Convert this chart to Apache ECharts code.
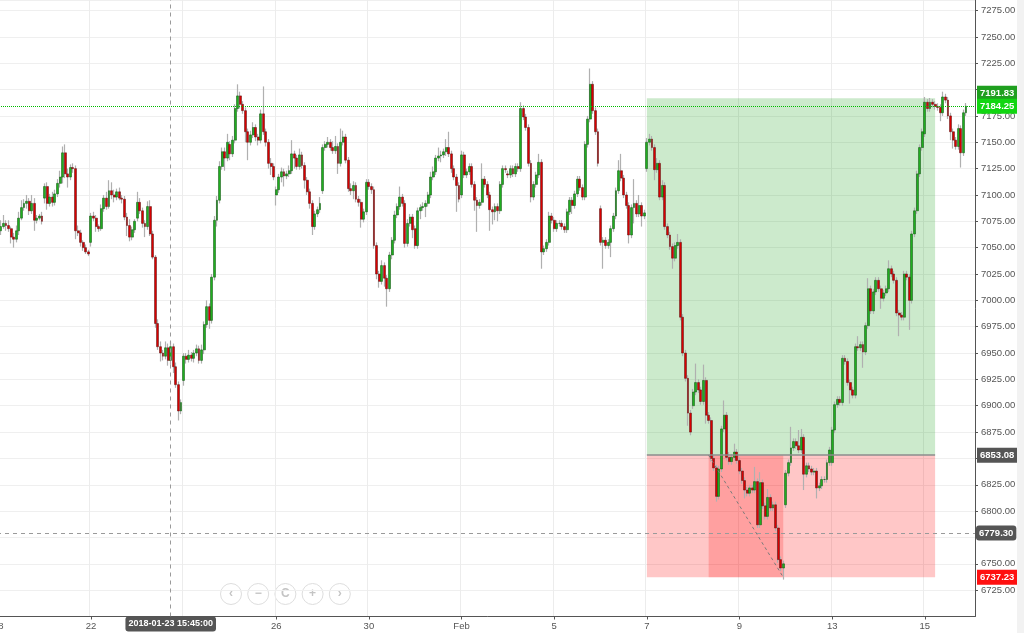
<!DOCTYPE html>
<html><head><meta charset="utf-8">
<script src="https://cdn.jsdelivr.net/npm/echarts@6/dist/echarts.min.js"></script>
<style>html,body{margin:0;padding:0;background:#fff}#c{width:1024px;height:633px}</style>
</head><body><div id="c"></div><script>
// ---- data (30-min style bars, 18 per trading day) ----
const days = ['2018-01-18','2018-01-19','2018-01-22','2018-01-23','2018-01-24','2018-01-25','2018-01-26',
  '2018-01-29','2018-01-30','2018-01-31','2018-02-01','2018-02-02','2018-02-05','2018-02-06','2018-02-07',
  '2018-02-08','2018-02-09','2018-02-12','2018-02-13','2018-02-14','2018-02-15'];
const dayLabels = ['18','19','22','23','24','25','26','29','30','31','Feb','2','5','6','7','8','9','12','13','14','15'];
const dayOpen = [7062,7097,7055,7078,6924,7148,7100,7104,7112,7068,7100,7120,7076,7087,7125,6900,6848,6806,6846,7019,7158];
const closes = [
 [7066,7070,7073,7071,7068,7060,7058,7066,7078,7088,7092,7094,7085,7092,7076,7078,7080,7075],
 [7108,7092,7098,7093,7101,7111,7117,7140,7120,7117,7126,7125,7066,7064,7055,7050,7046,7044],
 [7080,7078,7070,7068,7087,7097,7089,7104,7100,7098,7103,7097,7096,7079,7071,7060,7067,7075],
 [7093,7085,7073,7070,7089,7063,7041,6978,6956,6950,6947,6955,6943,6956,6937,6920,6895,6903],
 [6947,6944,6948,6945,6950,6954,6943,6953,6977,6994,6981,7022,7076,7095,7127,7141,7135,7150],
 [7139,7152,7182,7194,7186,7180,7160,7150,7157,7164,7155,7152,7177,7160,7150,7130,7127,7117],
 [7105,7117,7122,7118,7120,7123,7139,7135,7127,7138,7128,7114,7103,7092,7070,7082,7086,7092],
 [7145,7148,7150,7145,7142,7146,7130,7150,7155,7133,7106,7104,7109,7096,7093,7077,7084,7112],
 [7108,7105,7052,7025,7018,7033,7021,7011,7043,7057,7081,7089,7098,7092,7054,7073,7079,7067],
 [7052,7085,7088,7089,7092,7100,7117,7122,7135,7137,7138,7141,7145,7139,7125,7117,7109,7096],
 [7138,7119,7122,7127,7110,7095,7090,7093,7115,7110,7100,7086,7084,7089,7085,7110,7125,7124],
 [7119,7125,7120,7127,7125,7182,7174,7164,7130,7098,7110,7119,7131,7046,7049,7055,7080,7076],
 [7068,7073,7073,7070,7067,7084,7095,7090,7101,7115,7107,7098,7148,7172,7205,7180,7160,7130],
 [7055,7057,7052,7055,7068,7080,7104,7123,7116,7100,7090,7062,7088,7092,7082,7090,7080,7083],
 [7150,7153,7145,7124,7130,7098,7109,7070,7062,7051,7040,7052,7055,6984,6950,6926,6893,6875],
 [6913,6922,6915,6904,6924,6891,6886,6850,6841,6814,6840,6878,6891,6851,6847,6851,6856,6848],
 [6838,6829,6820,6817,6822,6820,6828,6787,6827,6805,6795,6813,6803,6806,6784,6754,6746,6750],
 [6836,6846,6860,6866,6862,6858,6870,6835,6843,6840,6837,6838,6822,6824,6830,6830,6846,6858],
 [6877,6901,6906,6903,6945,6942,6922,6915,6910,6956,6955,6958,6951,6976,7011,6990,7008,7019],
 [7011,7002,7007,7011,7030,7025,7019,6988,6986,6984,7025,7022,7000,7063,7085,7120,7145,7160],
 [7188,7182,7188,7186,7184,7183,7178,7193,7190,7175,7160,7152,7146,7163,7140,7178,7184.25]
];
const wickHi = [
 [4,6,8,3,5,2,4,5,6,7,4,6,3,8,5,3,2,4],
 [3,4,3,5,4,4,6,6,8,5,3,4,3,5,3,2,3,2],
 [3,4,3,2,4,3,6,10,8,5,3,4,3,3,4,6,3,2],
 [10,4,3,3,5,6,3,2,4,5,3,6,4,5,3,4,3,3],
 [3,3,5,3,3,4,3,5,3,6,3,3,4,4,5,4,4,8],
 [3,4,4,11,4,3,3,3,4,5,3,3,4,26,3,3,5,3],
 [3,3,4,3,3,5,13,3,3,6,3,3,3,3,3,3,3,6],
 [3,3,5,3,6,10,3,13,6,3,3,5,4,3,3,3,3,3],
 [3,3,3,3,3,5,3,3,3,3,4,3,10,3,3,4,3,3],
 [3,3,3,4,3,3,5,5,3,8,4,3,8,15,3,3,3,3],
 [4,3,3,3,3,3,3,3,15,3,3,3,3,3,3,3,3,3],
 [3,3,3,3,3,6,3,3,3,3,3,3,8,3,3,3,4,3],
 [3,3,3,3,3,3,3,3,3,3,3,3,3,3,15,3,3,3],
 [3,3,3,3,3,3,3,10,16,3,3,3,3,23,3,10,3,3],
 [4,5,3,3,5,3,5,3,3,3,3,3,8,3,3,3,3,3],
 [3,18,3,3,15,3,3,3,3,3,3,3,14,3,5,3,8,3],
 [3,3,3,3,3,3,14,3,10,3,3,8,3,3,3,3,3,3],
 [3,3,20,3,3,15,8,3,3,3,3,3,3,3,3,3,3,3],
 [3,3,3,3,3,3,3,3,3,3,10,3,3,3,10,3,3,3],
 [3,3,3,3,8,3,3,3,3,3,3,3,3,3,3,3,3,3],
 [5,3,4,3,3,3,3,5,3,3,3,3,3,4,3,3,3]
];
const wickLo = [
 [3,4,2,5,3,6,8,3,4,2,3,5,4,3,10,3,2,3],
 [5,6,3,4,3,3,4,6,4,10,3,4,8,3,4,3,2,2],
 [4,3,5,3,2,3,3,2,4,5,3,2,4,3,10,4,3,3],
 [3,3,4,10,3,2,2,4,3,8,4,3,5,4,6,3,9,3],
 [5,4,3,3,4,3,3,3,4,3,8,3,3,6,3,3,12,3],
 [6,3,3,3,4,3,10,17,3,3,4,5,3,3,4,5,8,3],
 [10,3,5,10,3,3,3,10,3,3,3,8,3,5,8,3,3,3],
 [3,3,3,3,3,3,10,3,3,3,3,4,8,3,4,8,3,3],
 [3,4,3,5,6,3,8,17,3,4,3,3,3,3,4,3,3,8],
 [3,3,8,3,10,3,3,3,3,3,6,3,4,3,4,3,25,3],
 [3,3,3,3,3,10,25,3,3,3,3,20,12,8,10,3,3,3],
 [3,3,3,3,3,3,3,3,3,5,3,3,3,16,3,3,3,3],
 [3,3,3,3,3,3,3,8,3,3,3,3,3,3,3,3,3,3],
 [3,25,3,3,14,3,3,3,3,3,3,8,3,15,3,3,10,3],
 [3,3,3,10,3,3,3,3,3,3,10,3,3,3,3,3,12,3],
 [3,3,3,3,3,8,3,3,3,5,3,3,3,3,3,3,3,3],
 [3,3,8,3,3,3,3,3,3,3,3,3,3,3,3,3,3,11],
 [3,3,3,3,3,3,3,15,3,3,3,3,10,3,3,3,3,3],
 [3,3,3,3,3,3,3,13,3,3,3,3,15,3,3,3,3,3],
 [3,10,3,3,3,3,3,3,20,3,3,3,28,3,3,3,3,3],
 [3,3,3,3,3,3,8,3,3,3,8,8,3,3,14,3,3]
];
const priceMarks = {target: 7191.83, last: 7184.25, entry: 6853.08, cross: 6779.30, stop: 6737.23};
const crossLabel = '2018-01-23 15:45:00';
const crossBar = 67;
const posBox = {start: 252, end: 364, hitStart: 276, hitEnd: 305};
const totalSlots = 380;

// ---- build ----
const cats = [], wickData = [], bodyData = [], labelMap = new Map();
days.forEach((d, i) => {
  if (i % 2 === 0) labelMap.set(cats.length, dayLabels[i]);
  let o = dayOpen[i];
  closes[i].forEach((c, k) => {
    const h = Math.max(o, c) + wickHi[i][k], l = Math.min(o, c) - wickLo[i][k];
    cats.push(d + ' bar' + k);
    wickData.push([o, c, l, h]);
    bodyData.push([o, c, Math.min(o, c), Math.max(o, c)]);
    o = c;
  });
});
while (cats.length < totalSlots) cats.push('slot' + cats.length);
const showIdx = (i) => labelMap.has(i);

const FONT = 'Liberation Sans, Arial, sans-serif';
const priceLabel = (bg, dy) => ({show: true, position: 'end', distance: 2, offset: [0, dy || 0],
  formatter: p => Number(p.value).toFixed(2),
  backgroundColor: bg, color: '#fff', fontSize: 9.5, fontWeight: 'bold', fontFamily: FONT, padding: [3, 3, 2, 3], opacity: 1});
const noLine = {color: 'rgba(0,0,0,0)', width: 1};

const chart = echarts.init(document.getElementById('c'), null, {renderer: 'canvas'});
chart.setOption({
  animation: false,
  textStyle: {fontFamily: FONT},
  grid: {left: -3, right: 49, top: 0, bottom: 16.5, outerBoundsMode: 'none', containLabel: false},
  axisPointer: {triggerOn: 'none'},
  xAxis: {
    type: 'category', data: cats, boundaryGap: true,
    axisLine: {lineStyle: {color: '#555', width: 1}},
    axisTick: {show: true, alignWithLabel: true, interval: showIdx, length: 3, lineStyle: {color: '#555'}},
    axisLabel: {interval: showIdx, formatter: (v, i) => labelMap.get(i) || '', color: '#555', fontSize: 9.5, margin: 5, fontFamily: FONT},
    splitLine: {show: true, interval: showIdx, lineStyle: {color: '#ececec'}},
    axisPointer: {show: true, value: crossBar, status: 'show', type: 'line', snap: false, triggerTooltip: false,
      lineStyle: {color: '#9a9a9a', type: [4, 4], width: 1},
      label: {show: true, formatter: () => crossLabel, backgroundColor: '#555', color: '#fff', fontSize: 9, fontWeight: 'bold',
        fontFamily: FONT, padding: [3, 3, 3, 3], margin: 0},
      handle: {show: false}}
  },
  yAxis: {
    type: 'value', position: 'right', min: 6700, max: 7285, interval: 25,
    axisLine: {show: true, lineStyle: {color: '#555'}},
    axisTick: {show: true, length: 3, lineStyle: {color: '#555'}},
    axisLabel: {formatter: v => v.toFixed(2), color: '#555', fontSize: 9.5, margin: 6, showMinLabel: false, showMaxLabel: false, fontFamily: FONT},
    splitLine: {show: true, lineStyle: {color: '#efefef'}},
    axisPointer: {show: true, value: priceMarks.cross, status: 'show', type: 'line', snap: false, triggerTooltip: false,
      lineStyle: {color: '#9a9a9a', type: [4, 4], width: 1},
      label: {show: true, formatter: () => priceMarks.cross.toFixed(2), backgroundColor: '#555', color: '#fff', fontSize: 9.5,
        fontWeight: 'bold', fontFamily: FONT, padding: [3, 3, 2, 3], margin: 1},
      handle: {show: false}}
  },
  series: [
    {
      name: 'wicks', type: 'candlestick', data: wickData, barWidth: 0.5, silent: true, z: 2,
      itemStyle: {color: '#b0b0b0', color0: '#b0b0b0', borderColor: '#b0b0b0', borderColor0: '#b0b0b0', borderWidth: 1.2},
      markArea: {silent: true, z: 1, data: [
        [{coord: [posBox.start, priceMarks.target], itemStyle: {color: 'rgba(0,150,0,0.2)'}}, {coord: [posBox.end, priceMarks.entry]}],
        [{coord: [posBox.start, priceMarks.entry], itemStyle: {color: 'rgba(255,0,0,0.22)'}}, {coord: [posBox.end, priceMarks.stop]}],
        [{coord: [posBox.hitStart, priceMarks.entry], itemStyle: {color: 'rgba(255,0,0,0.2)'}}, {coord: [posBox.hitEnd, priceMarks.stop]}]
      ]}
    },
    {
      name: 'bodies', type: 'candlestick', data: bodyData, barWidth: 2.4, silent: true, z: 3,
      itemStyle: {color: '#1fae1f', color0: '#d80000', borderColor: '#0d4f0d', borderColor0: '#551010', borderWidth: 0.5},
      markLine: {silent: true, symbol: ['none', 'none'], z: 5, data: [
        [{coord: [posBox.start, priceMarks.entry], lineStyle: {color: '#8c8c8c', width: 1.5, type: 'solid'}, label: {show: false}},
         {coord: [posBox.end, priceMarks.entry]}],
        [{coord: [posBox.hitStart, priceMarks.entry], lineStyle: {color: '#7a7a7a', width: 1, type: [3, 3]}, label: {show: false}},
         {coord: [posBox.hitEnd, priceMarks.stop]}],
        {yAxis: priceMarks.target, lineStyle: noLine, label: priceLabel('#1f9f1f', -5)},
        {yAxis: priceMarks.last, lineStyle: {color: '#00bb00', type: 'dotted', width: 1}, label: priceLabel('#12d612', 0)},
        {yAxis: priceMarks.entry, lineStyle: noLine, label: priceLabel('#555555', 0)},
        {yAxis: priceMarks.stop, lineStyle: noLine, label: priceLabel('#ff1010', 0)}
      ]}
    }
  ],
  graphic: [
    {type: 'rect', right: 0, top: 0, z: 100, shape: {width: 7, height: 633}, style: {fill: '#f2f2f2'}},
    ...['‹', '−', 'C', '+', '›'].map((g, i) => ({
      type: 'group', left: 220 + i * 27.2, top: 583, z: 100,
      children: [
        {type: 'circle', shape: {cx: 11, cy: 11, r: 10.5}, style: {fill: 'rgba(255,255,255,0.6)', stroke: '#dddddd', lineWidth: 1}},
        {type: 'text', style: {text: g, x: 11, y: 11, align: 'center', verticalAlign: 'middle', fill: '#c4c4c4', font: 'bold 12px ' + FONT}}
      ]
    }))
  ]
});
</script></body></html>
